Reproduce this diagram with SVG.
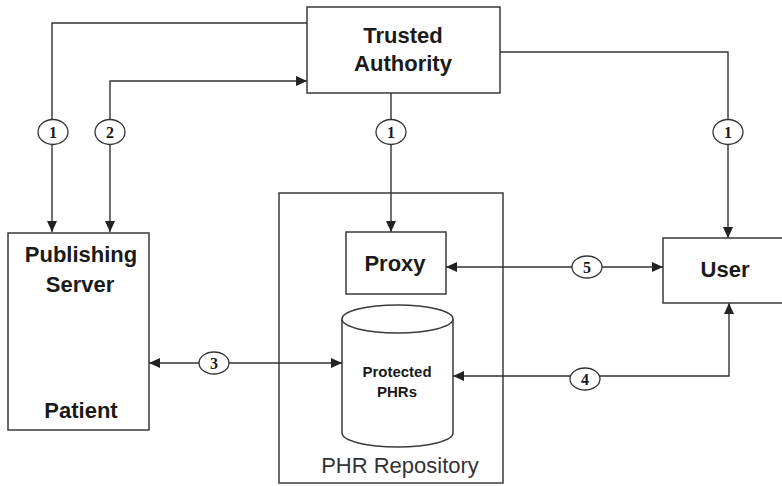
<svg xmlns="http://www.w3.org/2000/svg" width="782" height="486" viewBox="0 0 782 486">
  <style>
    .box { fill: #fff; stroke: #3a3a3a; stroke-width: 1.5; }
    .wire { fill: none; stroke: #333; stroke-width: 1.4; marker-end: url(#ah); }
    .both { marker-start: url(#ah); }
    .tag { fill: #fff; stroke: #333; stroke-width: 1.3; }
    .tagt { font-family: "Liberation Serif", serif; font-size: 16px; font-weight: bold; fill: #1a1a1a; text-anchor: middle; }
    .lbl { font-family: "Liberation Sans", Arial, sans-serif; font-weight: bold; font-size: 22px; fill: #1a1a1a; text-anchor: middle; }
    .small { font-size: 15px; }
    .reg { font-family: "Liberation Sans", Arial, sans-serif; font-size: 22px; fill: #333; text-anchor: middle; }
  </style>
  <defs>
    <marker id="ah" markerUnits="userSpaceOnUse" markerWidth="12" markerHeight="10" refX="11" refY="5" orient="auto-start-reverse">
      <path d="M0,0 L11,5 L0,10 Z" fill="#222"/>
    </marker>
  </defs>
  <rect width="782" height="486" fill="#fff"/>

  <g id="phr-repository">
    <rect class="box" x="279" y="193" width="224" height="290"/>
    <text class="reg" x="400" y="473">PHR Repository</text>
  </g>

  <g id="trusted-authority">
    <rect class="box" x="307" y="7" width="193" height="86"/>
    <text class="lbl" x="403" y="43">Trusted</text>
    <text class="lbl" x="403" y="71">Authority</text>
  </g>

  <g id="publishing-server">
    <rect class="box" x="8" y="233" width="141" height="197"/>
    <text class="lbl" x="81" y="262">Publishing</text>
    <text class="lbl" x="80" y="292">Server</text>
    <text class="lbl" x="81" y="418">Patient</text>
  </g>

  <g id="proxy">
    <rect class="box" x="346" y="232" width="100" height="62"/>
    <text class="lbl" x="395" y="271">Proxy</text>
  </g>

  <g id="user">
    <rect class="box" x="663" y="238" width="127" height="65"/>
    <text class="lbl" x="725" y="277">User</text>
  </g>

  <g id="protected-phrs">
    <path class="box" d="M342,319 L342,433 A55.5,14 0 0 0 453,433 L453,319"/>
    <ellipse class="box" cx="397.5" cy="319" rx="55.5" ry="14"/>
    <text class="lbl small" x="397" y="377">Protected</text>
    <text class="lbl small" x="397" y="397">PHRs</text>
  </g>

  <g id="connectors">
    <path class="wire" d="M307,23 L52,23 L52,232"/>
    <path class="wire both" d="M110,232 L110,81 L307,81"/>
    <path class="wire" d="M391,93 L391,232"/>
    <path class="wire" d="M500,52 L728,52 L728,238"/>
    <path class="wire both" d="M446,267 L663,267"/>
    <path class="wire both" d="M149,363 L342,363"/>
    <path class="wire both" d="M453,376 L729,376 L729,303"/>

    <g id="tags">
      <ellipse class="tag" cx="53" cy="132" rx="15" ry="12.5"/>
      <text class="tagt" x="53" y="138">1</text>
      <ellipse class="tag" cx="110" cy="132" rx="15" ry="12.5"/>
      <text class="tagt" x="110" y="138">2</text>
      <ellipse class="tag" cx="391" cy="132" rx="15" ry="12.5"/>
      <text class="tagt" x="391" y="138">1</text>
      <ellipse class="tag" cx="728" cy="132" rx="15" ry="12.5"/>
      <text class="tagt" x="728" y="138">1</text>
      <ellipse class="tag" cx="214" cy="363" rx="15" ry="11"/>
      <text class="tagt" x="214" y="369">3</text>
      <ellipse class="tag" cx="587" cy="267" rx="15" ry="11"/>
      <text class="tagt" x="587" y="273">5</text>
      <ellipse class="tag" cx="585" cy="379" rx="15" ry="11"/>
      <text class="tagt" x="585" y="385">4</text>
    </g>
  </g>
</svg>
